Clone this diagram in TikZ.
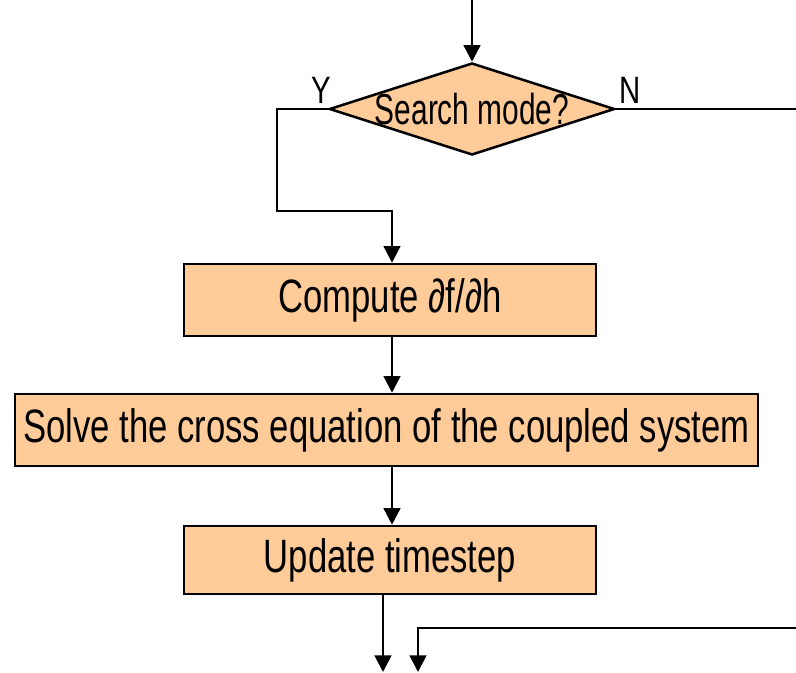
\documentclass[tikz,border=0pt]{standalone}
\usepackage{fontspec}
\setmainfont{Liberation Sans}
\usetikzlibrary{positioning,shapes.geometric,arrows.meta}

\definecolor{peach}{RGB}{255,204,153}
\newcommand{\tall}[2][1.35]{\scalebox{1}[#1]{#2}}

\begin{document}
\begin{tikzpicture}[x=0.75pt,y=-0.75pt,line width=1.9pt,
    >={Triangle[width=12.5pt,length=12.5pt]},
    stepbox/.style={draw,fill=peach,inner sep=0pt,minimum height=54pt,
                    font=\fontsize{26}{30}\selectfont},
    decide/.style={draw,fill=peach,diamond,inner sep=0pt,
                   minimum width=214pt,minimum height=69pt},
    yesno/.style={inner sep=0pt,anchor=base,font=\fontsize{22}{26}\selectfont}]
    \useasboundingbox (0,0) rectangle (796,672);

    \node[decide]   (mode) at (472,109)
        [label={[font=\fontsize{22.4}{26}\selectfont]center:\tall[1.45]{Search mode?}}] {};
    \node[yesno]    (yes)  at (321,103) {\tall[1.3]{Y}};
    \node[yesno]    (no)   at (630,103) {\tall[1.3]{N}};

    \node[stepbox,minimum width=309pt] (grad) at (390,300) {\tall{Compute ∂f/∂h}};
    \node[stepbox,minimum width=557pt] (solve) at (386.5,430) {\tall{Solve the cross equation of the coupled system}};
    \node[stepbox,minimum width=309pt,minimum height=51pt] (upd) at (390,560) {\tall{Update timestep}};

    % free ends and bends
    \coordinate (in)   at (472,0);
    \coordinate (yl)   at (277,211);
    \coordinate (yj)   at (392,211);
    \coordinate (nout) at (796,109);
    \coordinate (out1) at (383,672);
    \coordinate (back) at (796,628);
    \coordinate (out2) at (418,672);

    \draw[->] (in) -- (mode.north);
    \draw[->] (mode.west) -| (yl) -- (yj) -- (yj |- grad.north);
    \draw     (mode.east) -- (nout);
    \draw[->] (grad.south -| yj) -- (solve.north -| yj);
    \draw[->] (solve.south -| yj) -- (upd.north -| yj);
    \draw[->] (upd.south -| out1) -- (out1);
    \draw[->] (back) -| (out2);
\end{tikzpicture}
\end{document}
